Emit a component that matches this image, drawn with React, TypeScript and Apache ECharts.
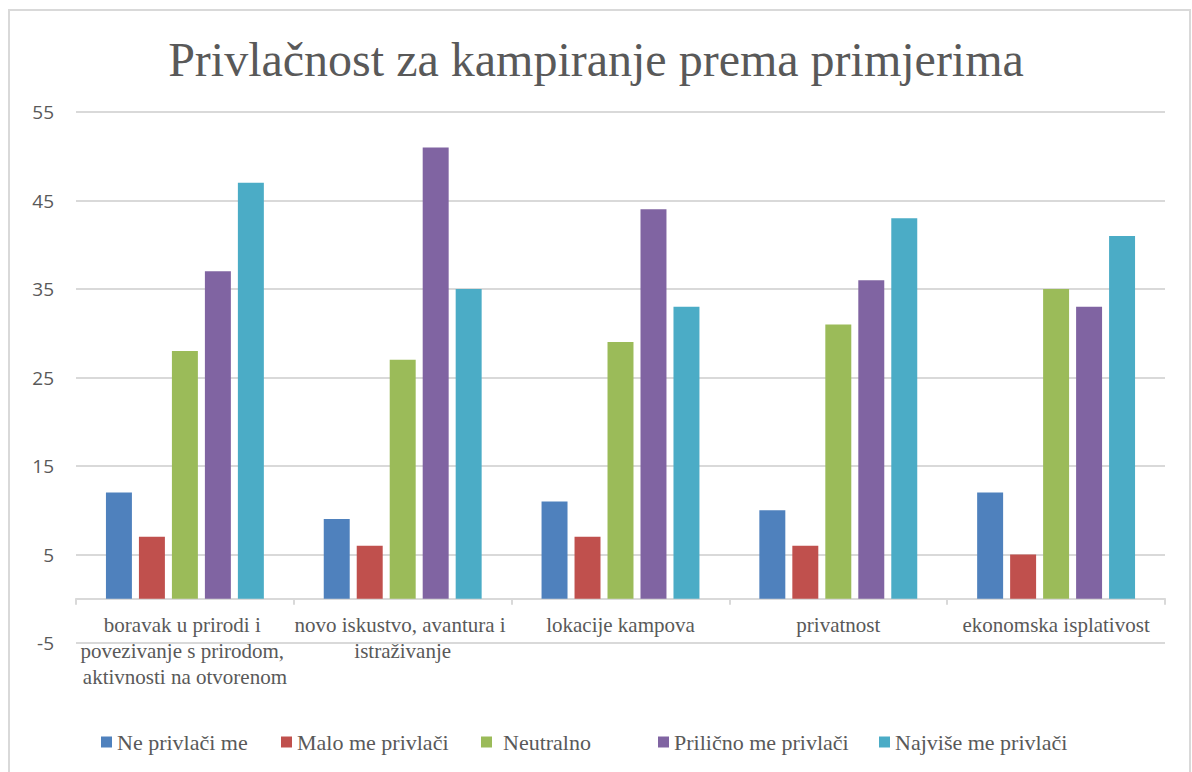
import React, { useEffect, useRef } from "react";
import * as echarts from "echarts";

const categories = [
  "boravak u prirodi i povezivanje s prirodom, aktivnosti na otvorenom",
  "novo iskustvo, avantura i istraživanje",
  "lokacije kampova",
  "privatnost",
  "ekonomska isplativost",
];
const seriesNames = [
  "Ne privlači me",
  "Malo me privlači",
  "Neutralno",
  "Prilično me privlači",
  "Najviše me privlači",
];
const neVals = [12, 9, 11, 10, 12];
const maloVals = [7, 6, 7, 6, 5];
const neutralVals = [28, 27, 29, 31, 35];
const prilicnoVals = [37, 51, 44, 36, 33];
const najviseVals = [47, 35, 33, 43, 41];
const colors = ["#4F81BD", "#C0504D", "#9BBB59", "#8064A2", "#4BACC6"];
const legendLeft = [101, 281, 481, 658, 879];
const legendTextPad = [0, 0, 6, 0, 0];

const SERIF = "'Liberation Serif', 'Times New Roman', serif";

export default function App() {
  const ref = useRef<HTMLDivElement>(null);
  useEffect(() => {
    if (!ref.current) return;
    const chart = echarts.init(ref.current, null, { renderer: "svg" });
    const all = [neVals, maloVals, neutralVals, prilicnoVals, najviseVals];
    chart.setOption({
      animation: false,
      backgroundColor: "#ffffff",
      textStyle: { fontFamily: SERIF },
      title: {
        text: "Privlačnost za kampiranje prema primjerima",
        left: "center",
        top: 30,
        textStyle: {
          fontFamily: SERIF,
          fontSize: 48,
          fontWeight: "normal",
          color: "#595959",
        },
      },
      graphic: [
        {
          type: "rect",
          shape: { x: 9, y: 10, width: 1181, height: 800 },
          style: { fill: "none", stroke: "#d9d9d9", lineWidth: 2 },
          silent: true,
        },
      ],
      legend: seriesNames.map((name, i) => ({
        left: legendLeft[i],
        top: 731,
        padding: 0,
        itemWidth: 11,
        itemHeight: 11,
        icon: "rect",
        textStyle: {
          fontFamily: SERIF,
          fontSize: 22,
          color: "#595959",
          padding: [0, 0, 0, legendTextPad[i]],
        },
        data: [name],
      })),
      grid: { left: 76, right: 27, top: 112, bottom: 129, containLabel: false },
      xAxis: {
        type: "category",
        data: categories,
        axisLine: { onZero: true, lineStyle: { color: "#d9d9d9", width: 2 } },
        axisTick: { show: true, length: 6, lineStyle: { color: "#d9d9d9", width: 2 } },
        axisLabel: {
          interval: 0,
          margin: -31,
          width: 217,
          overflow: "break",
          fontFamily: SERIF,
          fontSize: 21,
          lineHeight: 26,
          color: "#595959",
        },
      },
      yAxis: {
        type: "value",
        min: -5,
        max: 55,
        interval: 10,
        axisLine: { show: false },
        axisTick: { show: false },
        axisLabel: {
          fontFamily: "'Open Sans', sans-serif",
          fontSize: 19,
          color: "#595959",
          margin: 22,
        },
        splitLine: { lineStyle: { color: "#d9d9d9", width: 2 } },
      },
      series: all.map((vals, i) => ({
        name: seriesNames[i],
        type: "bar",
        data: vals,
        barGap: "27%",
        barCategoryGap: "27.5%",
        itemStyle: { color: colors[i] },
      })),
    });
    return () => chart.dispose();
  }, []);
  return (
    <div
      ref={ref}
      style={{ position: "absolute", left: 0, top: 0, width: 1192, height: 772 }}
    />
  );
}
